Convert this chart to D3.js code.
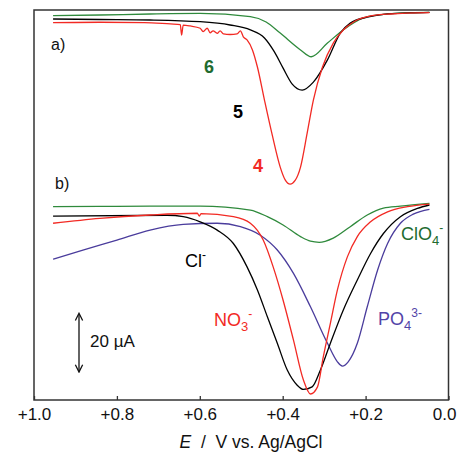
<!DOCTYPE html>
<html><head><meta charset="utf-8">
<script src="https://cdn.jsdelivr.net/npm/d3@7"></script>
<style>body{margin:0;background:#fff}svg{display:block}text{font-family:"Liberation Sans",Arial,sans-serif}</style>
</head><body>
<script>
// Potential (V vs Ag/AgCl) and downward-offset current (µA)
const xTicks = [1.0, 0.8, 0.6, 0.4, 0.2, 0.0];
const xTickLabels = ["+1.0", "+0.8", "+0.6", "+0.4", "+0.2", "0.0"];

// panel a)
const a6E = [0.954,0.841,0.720,0.599,0.478,0.440,0.406,0.357,0.331,0.292,0.254,0.205,0.157,0.092,0.046];
const a6I = [2.0,1.75,1.4,1.2,2.35,4.2,8.1,14.0,16.4,11.6,7.0,2.8,1.5,0.9,0.8];
const a5E = [0.954,0.841,0.720,0.599,0.527,0.478,0.444,0.420,0.399,0.377,0.353,0.326,0.292,0.261,0.237,0.196,0.157,0.092,0.046];
const a5I = [3.16,3.33,3.5,4.1,5.26,7.0,9.8,14.7,20.4,26.0,28.1,25.3,17.5,8.1,4.6,2.5,1.5,1.0,0.8];
const a4E = [0.954,0.841,0.734,0.671,0.647,0.644,0.640,0.623,0.599,0.592,0.582,0.575,0.568,0.558,0.551,0.543,0.527,0.510,0.502,0.495,0.486,0.473,0.461,0.444,0.425,0.406,0.394,0.382,0.370,0.357,0.341,0.326,0.304,0.278,0.254,0.229,0.188,0.140,0.046];
const a4I = [4.46,4.3,4.4,4.9,5.1,8.8,5.3,5.6,6.4,7.6,6.4,8.0,7.3,8.2,7.3,8.4,8.6,8.4,7.3,9.4,10.5,14.0,20.0,31.6,44.0,55.1,59.6,61.1,59.8,55.1,43.2,31.6,20.0,11.6,7.0,4.2,2.1,1.4,0.95];

// panel b)
const clo4E = [0.954,0.841,0.720,0.599,0.478,0.437,0.399,0.357,0.333,0.312,0.278,0.237,0.196,0.157,0.116,0.046];
const clo4I = [69.0,68.9,68.8,68.8,70.2,72.5,75.4,79.5,81.1,81.5,80.0,76.0,71.9,69.5,68.8,67.8];
const clE = [0.954,0.679,0.640,0.599,0.558,0.519,0.486,0.461,0.437,0.413,0.389,0.365,0.350,0.329,0.309,0.285,0.254,0.220,0.188,0.157,0.116,0.075,0.046];
const clI = [72.3,72.0,72.5,74.3,77.2,81.9,90.1,98.2,107.6,116.9,126.3,131.6,133.1,132.2,126.3,116.9,105.3,94.7,85.4,78.4,72.5,69.6,68.4];
const no3E = [0.954,0.841,0.720,0.606,0.601,0.597,0.519,0.478,0.447,0.423,0.399,0.374,0.350,0.333,0.316,0.302,0.285,0.268,0.244,0.220,0.188,0.147,0.099,0.046];
const no3I = [74.8,73.1,71.9,71.3,72.3,71.4,72.5,74.8,80.7,90.1,101.8,115.8,129.8,134.7,132.2,121.6,109.9,98.2,86.6,79.5,74.3,70.8,69.0,68.1];
const po4E = [0.954,0.882,0.800,0.720,0.640,0.558,0.502,0.454,0.413,0.374,0.333,0.292,0.268,0.256,0.242,0.220,0.196,0.171,0.147,0.116,0.085,0.046];
const po4I = [87.4,84.2,80.7,77.2,75.2,74.8,76.0,79.0,84.2,92.4,104.1,116.9,123.4,124.9,123.4,116.9,104.1,91.2,81.9,74.8,71.6,69.9];

const scaleBar = [106.7, 126.7]; // 20 µA

const W = 457, H = 454;
const L = 34, R = 448.5, T = 10, B = 400;
const RED = "#f22a24", GREEN = "#2f8a3c", GREEN_T = "#216b2f", BLACK = "#000", PURPLE = "#4a3c9c", PURPLE_T = "#5244a8";

const svg = d3.select("body").append("svg").attr("width", W).attr("height", H);
const x = d3.scaleLinear().domain([1.0, 0.0]).range([L, R]);
const y = d3.scaleLinear().domain([0, 136.8]).range([T, B]);

const line = d3.line().x(d => x(d[0])).y(d => y(d[1])).curve(d3.curveMonotoneX);
const zipS = (e, i) => e.map((v, k) => [v, i[k]]);

const series = [
  [a6E, a6I, GREEN], [a5E, a5I, BLACK], [a4E, a4I, RED],
  [clo4E, clo4I, GREEN], [po4E, po4I, PURPLE], [clE, clI, BLACK], [no3E, no3I, RED]
];
series.forEach(([e, i, c]) => {
  svg.append("path").datum(zipS(e, i)).attr("d", line)
    .attr("fill", "none").attr("stroke", c).attr("stroke-width", 1.3);
});

// frame
svg.append("rect").attr("x", L).attr("y", T).attr("width", R - L).attr("height", B - T)
  .attr("fill", "none").attr("stroke", "#333").attr("stroke-width", 1.5);

// x axis
const ax = svg.append("g").attr("transform", `translate(0,${B})`)
  .call(d3.axisBottom(x).tickValues(xTicks).tickSize(-4).tickPadding(8)
    .tickFormat((d, k) => xTickLabels[k]));
ax.select(".domain").remove();
ax.selectAll(".tick line").attr("stroke", "#333").attr("stroke-width", 1.3);
ax.selectAll("text").attr("font-size", 17).attr("fill", "#111")
  .attr("font-family", "Liberation Sans, Arial, sans-serif");
// keep the last label inside the picture
ax.selectAll(".tick").filter(d => d === 0).select("text")
  .attr("text-anchor", "end").attr("x", 456 - R);

const title = svg.append("text").attr("x", 251).attr("y", 448)
  .attr("text-anchor", "middle").attr("font-size", 17.5).attr("fill", "#111");
title.append("tspan").attr("font-style", "italic").text("E");
title.append("tspan").text("\u00a0\u00a0/\u00a0\u00a0V vs. Ag/AgCl");

// panel labels
const txt = (tx, ty, s, size, col, bold) => svg.append("text").attr("x", tx).attr("y", ty)
  .attr("font-size", size).attr("fill", col).attr("font-weight", bold ? "bold" : "normal").text(s);
txt(51, 50, "a)", 16, "#111");
txt(55, 189, "b)", 16, "#111");
txt(204, 73, "6", 18, GREEN_T, true);
txt(233, 118, "5", 18, "#000", true);
txt(253, 172, "4", 18, RED, true);

function chem(tx, ty, base, sub, sup, col) {
  const t = svg.append("text").attr("x", tx).attr("y", ty).attr("font-size", 18).attr("fill", col);
  t.append("tspan").text(base);
  if (sub) t.append("tspan").attr("font-size", 13).attr("dy", 5).text(sub);
  if (sup) t.append("tspan").attr("font-size", 12).attr("dy", sub ? -13 : -8).text(sup);
}
chem(185, 267, "Cl", null, "-", "#000");
chem(401, 240, "ClO", "4", "-", GREEN_T);
chem(214, 326, "NO", "3", "-", RED);
chem(378, 325, "PO", "4", "3-", PURPLE_T);

// scale bar
svg.append("defs").append("marker").attr("id", "ah").attr("viewBox", "0 0 10 10")
  .attr("refX", 8).attr("refY", 5).attr("markerWidth", 7).attr("markerHeight", 7)
  .attr("orient", "auto-start-reverse")
  .append("path").attr("d", "M1,1 L9,5 L1,9").attr("fill", "none").attr("stroke", "#111").attr("stroke-width", 1.4);
svg.append("line").attr("x1", 79).attr("x2", 79).attr("y1", y(scaleBar[0])).attr("y2", y(scaleBar[1]))
  .attr("stroke", "#111").attr("stroke-width", 1.3)
  .attr("marker-start", "url(#ah)").attr("marker-end", "url(#ah)");
txt(90, 347, "20 \u00b5A", 17, "#111");
</script>
</body></html>
